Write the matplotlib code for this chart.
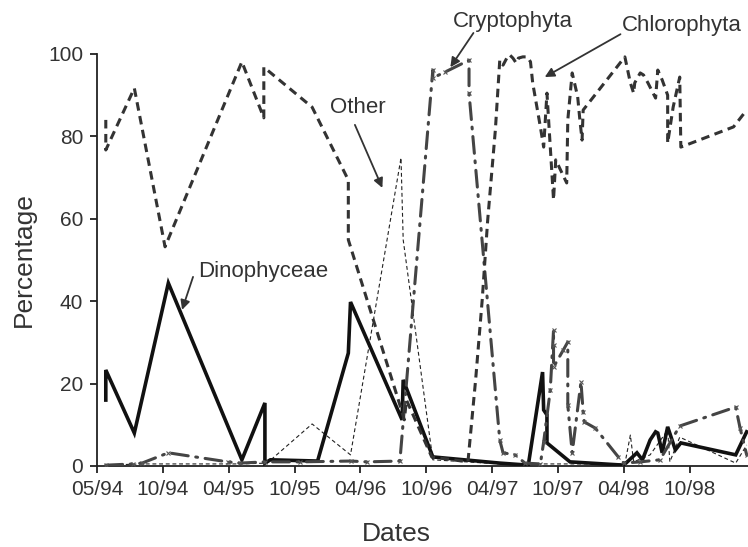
"""Phytoplankton group percentages over time"""
import numpy as np
from matplotlib import pyplot as plt

# x values are months since May 1994, y values are percentages
chloro_x = [0.8, 0.8, 3.4, 6.2, 13.2, 15.2, 15.2, 19.6, 22.9, 22.9, 27.6, 28.0, 28.2,
            30.5, 33.8, 34.5, 35.1, 35.6, 36.3, 36.7, 37.0, 37.4, 37.6, 37.9, 38.2,
            38.4, 38.8, 39.2, 39.5, 39.7, 40.4, 40.7, 41.0, 41.6, 41.8, 42.8, 42.9,
            43.3, 43.8, 44.0, 44.2, 44.3, 48.1, 48.6, 48.9, 49.0, 49.5, 49.8, 50.2,
            50.9, 51.1, 51.5, 52.0, 52.0, 52.5, 53.1, 53.2, 58.0, 59.2]
chloro_y = [84.0, 76.7, 91.7, 53.2, 98.1, 84.5, 96.8, 87.1, 69.4, 54.9, 14.8, 11.2, 16.0,
            2.2, 1.0, 20.9, 40.3, 59.7, 81.6, 98.5, 97.3, 99.3, 99.8, 99.0, 97.8,
            99.0, 99.3, 99.3, 98.1, 93.0, 82.3, 77.4, 90.5, 64.6, 74.3, 68.7, 84.0,
            95.4, 89.6, 84.0, 79.1, 86.4, 99.3, 93.0, 90.5, 93.0, 95.4, 94.9, 93.0,
            89.3, 96.1, 93.7, 90.0, 78.4, 87.1, 94.4, 77.4, 82.3, 86.4]

crypto_x = [0.8, 3.3, 4.1, 6.5, 11.9, 13.0, 15.3, 18.5, 23.1, 24.6, 27.6, 30.6, 30.6,
            31.7, 33.9, 33.9, 36.7, 37.0, 38.1, 39.0, 40.4, 40.7, 41.3, 41.6, 41.6,
            41.6, 42.5, 42.9, 42.9, 43.3, 44.1, 44.3, 44.4, 45.4, 47.5, 48.0, 49.5,
            51.3, 53.1, 58.2, 58.6, 59.2]
crypto_y = [0.2, 0.5, 0.7, 3.2, 1.0, 0.7, 1.0, 1.0, 1.2, 1.0, 1.2, 96.1, 94.2,
            95.6, 98.5, 90.5, 6.3, 3.2, 2.7, 0.7, 0.5, 5.8, 18.4, 33.0, 29.4,
            24.0, 28.2, 30.1, 14.8, 3.2, 20.4, 13.1, 10.7, 9.2, 2.2, 0.7, 1.0,
            1.5, 9.7, 14.3, 9.2, 2.7]

dino_x = [0.8, 0.8, 3.4, 6.5, 13.2, 15.3, 15.3, 15.8, 20.1, 22.9, 23.1, 27.8, 27.9,
          30.6, 36.7, 39.3, 40.6, 40.7, 41.0, 41.0, 43.1, 48.0, 49.2, 49.7, 50.4,
          50.9, 51.1, 51.5, 52.0, 52.7, 53.2, 58.2, 59.2]
dino_y = [16.0, 23.3, 8.0, 44.4, 1.5, 15.3, 0.7, 1.5, 1.2, 27.4, 39.8, 11.2, 20.9,
          2.2, 0.7, 0.2, 22.8, 13.6, 12.4, 5.6, 1.0, 0.2, 3.2, 1.5, 6.3,
          8.3, 8.0, 3.2, 9.5, 3.9, 5.6, 2.7, 8.3]

other_x = [0.8, 4.1, 13.0, 15.5, 19.6, 23.1, 27.7, 27.9, 30.6, 36.7, 42.2, 48.1,
           48.6, 48.9, 50.4, 52.0, 52.2, 53.1, 58.2, 59.2]
other_y = [0.2, 0.5, 0.5, 0.7, 10.2, 2.7, 74.8, 54.9, 1.5, 0.5, 0.5, 0.5,
           7.5, 1.0, 2.7, 8.7, 1.0, 7.0, 0.7, 5.1]

tick_months = np.arange(0, 60, 6)
tick_labels = ["05/94", "10/94", "04/95", "10/95", "04/96",
               "10/96", "04/97", "10/97", "04/98", "10/98"]

plt.rcParams["font.family"] = ["Liberation Sans", "DejaVu Sans"]
text_color = "#333333"

fig = plt.figure(figsize=(7.48, 5.47), dpi=100)
ax = fig.add_axes([0.1297, 0.1481, 0.870, 0.7532])

ax.plot(other_x, other_y, color="#222222", linewidth=0.8,
        linestyle=(0, (3.5, 2.5)), zorder=2)
ax.plot(dino_x, dino_y, color="#111111", linewidth=2.6,
        solid_joinstyle="miter", zorder=3)
ax.plot(crypto_x, crypto_y, color="#444444", linewidth=2.2,
        linestyle=(0, (5.5, 2.5, 0.6, 2.5)), dash_capstyle="round",
        marker="x", markersize=3.5, markeredgewidth=0.8,
        markeredgecolor="#555555", zorder=4)
ax.plot(chloro_x, chloro_y, color="#333333", linewidth=2.2,
        linestyle=(0, (2.8, 1.8)), zorder=5)

ax.set_xlim(0, 59.3)
ax.set_ylim(0, 100)
ax.set_xticks(tick_months)
ax.set_xticklabels(tick_labels)
ax.set_yticks([0, 20, 40, 60, 80, 100])

for side in ["top", "right"]:
    ax.spines[side].set_visible(False)
for side in ["left", "bottom"]:
    ax.spines[side].set_color("#222222")
    ax.spines[side].set_linewidth(1.3)
ax.tick_params(direction="out", length=5, width=1.3, color="#222222",
               labelsize=15, labelcolor=text_color, pad=5)

ax.set_xlabel("Dates", fontsize=19, color=text_color)
ax.set_ylabel("Percentage", fontsize=19, color=text_color)
ax.xaxis.set_label_coords(0.46, -0.135)
ax.yaxis.set_label_coords(-0.094, 0.5)

arrow = dict(arrowstyle="-|>", color="#333333", lw=1.3,
             mutation_scale=14, shrinkA=0, shrinkB=0)
labels = [
    ("Chlorophyta", (47.8, 107.0), (47.7, 104.8), (40.8, 94.4), "left"),
    ("Cryptophyta", (37.9, 107.8), (34.3, 105.1), (32.2, 96.8), "center"),
    ("Other", (23.8, 86.9), (23.5, 82.8), (26.0, 67.5), "center"),
    ("Dinophyceae", (15.1, 47.1), (8.75, 45.9), (7.75, 37.9), "center"),
]
for name, text_xy, tail, head, ha in labels:
    ax.text(text_xy[0], text_xy[1], name, fontsize=16, color=text_color,
            ha=ha, va="center", clip_on=False)
    ax.annotate("", xy=head, xytext=tail, arrowprops=arrow,
                annotation_clip=False)

fig.savefig("out.png", dpi=100)
